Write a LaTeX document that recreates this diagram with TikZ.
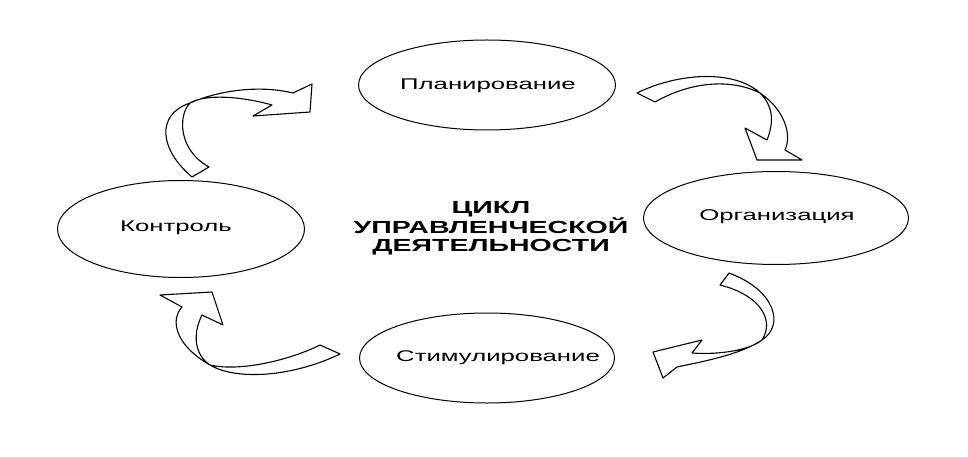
\documentclass[tikz,border=0pt]{standalone}
\usepackage{fontspec}
\setmainfont{Liberation Sans}
\usetikzlibrary{shapes.geometric}
\begin{document}
\begin{tikzpicture}[x=1pt,y=-1pt,
  stage/.style={draw, ellipse, line width=1pt, inner sep=0pt},
  stagetext/.style={font=\fontsize{15.5}{17}\selectfont},
  bandarrow/.style={draw, line width=1.1pt, line join=round, fill=white}]
\useasboundingbox (0,0) rectangle (968,457);
% stages
\node[stage, minimum width=257, minimum height=90] (plan) at (487,85) {};
\node[stage, minimum width=265, minimum height=93] (org) at (776,218) {};
\node[stage, minimum width=247, minimum height=97] (ctrl) at (181,229) {};
\node[stage, minimum width=255, minimum height=90] (stim) at (487,358) {};
\node[stagetext] (tplan) at (488,86) {\scalebox{1.66}[1]{Планирование}};
\node[stagetext] (torg) at (777,217) {\scalebox{1.66}[1]{Организация}};
\node[stagetext] (tctrl) at (176,228) {\scalebox{1.66}[1]{Контроль}};
\node[stagetext] (tstim) at (498,358) {\scalebox{1.66}[1]{Стимулирование}};
% title
\node[font=\fontsize{17.5}{17.5}\selectfont\bfseries, align=center] (title) at (491,228)
  {\scalebox{1.63}[1]{ЦИКЛ}\\\scalebox{1.63}[1]{УПРАВЛЕНЧЕСКОЙ}\\\scalebox{1.63}[1]{ДЕЯТЕЛЬНОСТИ}};
% arrow: Контроль -> Планирование
\draw[bandarrow] (192,177) .. controls (160,150) and (155,115) .. (190,103)
  .. controls (220,90) and (260,85) .. (293,93)
  -- (312,84) -- (310,112) -- (253,116) -- (272,105)
  .. controls (240,96) and (205,94) .. (190,103)
  .. controls (178,115) and (178,150) .. (209,167) -- cycle;
% arrow: Планирование -> Организация
\draw[bandarrow] (637,93) .. controls (680,72) and (735,70) .. (760,93)
  .. controls (785,110) and (792,135) .. (785,150)
  -- (802,160) -- (757,160) -- (745,128) -- (767,140)
  .. controls (775,120) and (772,105) .. (760,93)
  .. controls (730,78) and (690,82) .. (655,102) -- cycle;
% arrow: Организация -> Стимулирование
\draw[bandarrow] (729,273) .. controls (775,290) and (785,325) .. (762,340)
  .. controls (740,355) and (700,362) .. (677,367)
  -- (663,378) -- (653,352) -- (702,340) -- (692,353)
  .. controls (720,355) and (750,350) .. (762,340)
  .. controls (775,320) and (760,295) .. (720,285) -- cycle;
% arrow: Стимулирование -> Контроль
\draw[bandarrow] (340,354) .. controls (290,378) and (235,380) .. (210,365)
  .. controls (175,345) and (170,320) .. (182,307)
  -- (160,295) -- (212,292) -- (223,325) -- (202,315)
  .. controls (192,335) and (195,355) .. (210,365)
  .. controls (240,372) and (290,360) .. (320,345) -- cycle;
\end{tikzpicture}
\end{document}
